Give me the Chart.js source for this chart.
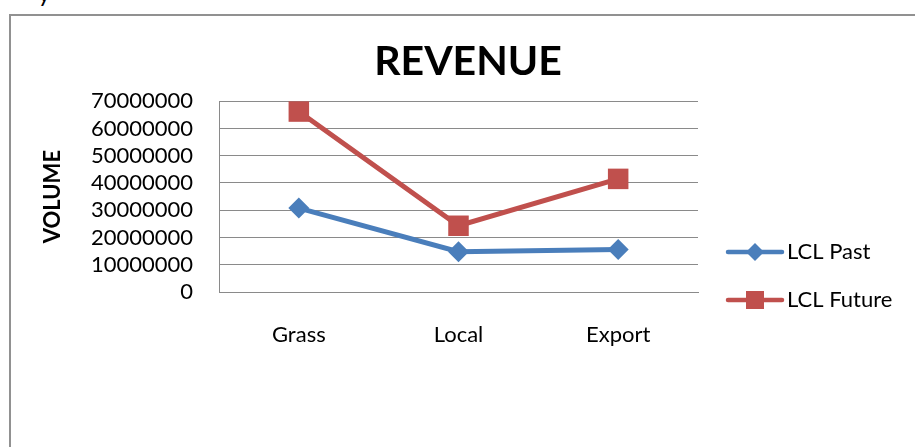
<!DOCTYPE html>
<html>
<head>
<meta charset="utf-8">
<script src="https://cdn.jsdelivr.net/npm/chart.js@4"></script>
<style>
  html, body { margin: 0; padding: 0; background: #fff; width: 915px; height: 447px; overflow: hidden; }
  #stub { position: absolute; left: 38px; top: -19px; font: 24px Lato, sans-serif; line-height: 24px; color: #000; }
  #frame { position: absolute; left: 9px; top: 14px; width: 1000px; height: 1000px;
           border-left: 2px solid #919191; border-top: 2px solid #919191; }
  #wrap { position: absolute; left: 11px; top: 16px; width: 914px; height: 431px; }
</style>
</head>
<body>
<div id="stub">y</div>
<div id="frame"></div>
<div id="wrap"><canvas id="c" width="914" height="431"></canvas></div>
<script>
// Categories and series
const categories = ['Grass', 'Local', 'Export'];
const lclPast = [30800000, 14800000, 15600000];
const lclFuture = [66200000, 24300000, 41500000];
// Value-axis ticks
const yTicks = [0, 10000000, 20000000, 30000000, 40000000, 50000000, 60000000, 70000000];

const FONT = 'Lato';
const GRID = '#8a8a8a';

// Legend drawn as line + marker + label to the right of the plot
const lineLegend = {
  id: 'lineLegend',
  afterDraw(chart) {
    const { ctx, chartArea } = chart;
    const x0 = chartArea.right + 30;
    chart.data.datasets.forEach((ds, i) => {
      const y = chartArea.bottom - 40 + i * 48;
      ctx.save();
      ctx.strokeStyle = ds.borderColor;
      ctx.lineWidth = 4.5;
      ctx.lineCap = 'round';
      ctx.beginPath();
      ctx.moveTo(x0, y);
      ctx.lineTo(x0 + 54, y);
      ctx.stroke();
      ctx.fillStyle = ds.borderColor;
      const cx = x0 + 27;
      ctx.beginPath();
      if (ds.pointStyle === 'rectRot') {
        const r = 9;
        ctx.moveTo(cx - r, y); ctx.lineTo(cx, y - r); ctx.lineTo(cx + r, y); ctx.lineTo(cx, y + r);
        ctx.closePath();
      } else {
        ctx.rect(cx - 9, y - 9, 18, 18);
      }
      ctx.fill();
      ctx.fillStyle = '#000';
      ctx.font = '22px ' + FONT;
      ctx.textBaseline = 'middle';
      ctx.textAlign = 'left';
      ctx.fillText(ds.label, x0 + 59, y);
      ctx.restore();
    });
  }
};

new Chart(document.getElementById('c'), {
  type: 'line',
  data: {
    labels: categories,
    datasets: [
      {
        label: 'LCL Past',
        data: lclPast,
        yAxisID: 'y',
        borderColor: '#4a7ebb',
        backgroundColor: '#4a7ebb',
        borderWidth: 5,
        pointStyle: 'rectRot',
        pointRadius: 10.5,
        pointBorderWidth: 0,
        pointBackgroundColor: '#4a7ebb',
        tension: 0,
        clip: false
      },
      {
        label: 'LCL Future',
        data: lclFuture,
        yAxisID: 'y',
        borderColor: '#c0504d',
        backgroundColor: '#c0504d',
        borderWidth: 5,
        pointStyle: 'rect',
        pointRadius: 14.5,
        pointBorderWidth: 0,
        pointBackgroundColor: '#c0504d',
        tension: 0,
        clip: false
      }
    ]
  },
  options: {
    responsive: false,
    animation: false,
    devicePixelRatio: 1,
    layout: { padding: 0 },
    plugins: {
      legend: { display: false },
      tooltip: { enabled: false },
      title: {
        display: true,
        text: 'REVENUE',
        color: '#000',
        font: { family: FONT, size: 41, weight: 'bold' },
        padding: { top: 21, bottom: 15 }
      }
    },
    scales: {
      x: {
        offset: true,
        grid: { display: false, drawTicks: false },
        border: { display: true, color: GRID, width: 1 },
        ticks: { color: '#000', font: { family: FONT, size: 22 }, padding: 30, maxRotation: 0 },
        afterFit(s) { s.height = 155; }
      },
      y: {
        min: yTicks[0],
        max: yTicks[yTicks.length - 1],
        afterBuildTicks(s) { s.ticks = yTicks.map(v => ({ value: v })); },
        grid: { color: GRID, lineWidth: 1, drawTicks: false },
        border: { display: true, color: GRID, width: 1 },
        ticks: {
          color: '#000',
          font: { family: FONT, size: 22 },
          padding: 26,
          autoSkip: false,
          callback: (v) => String(v)
        },
        title: {
          display: true,
          text: 'VOLUME',
          color: '#000',
          font: { family: FONT, size: 22, weight: 'bold' },
          padding: { top: 29, bottom: 0 }
        },
        afterFit(s) { s.width = 208; }
      },
      // empty right-hand band that holds the legend space
      legendBand: {
        type: 'linear',
        position: 'right',
        display: true,
        grid: { display: false, drawTicks: false },
        border: { display: false },
        ticks: { display: false },
        afterFit(s) { s.width = 227; }
      }
    }
  },
  plugins: [lineLegend]
});
</script>
</body>
</html>
